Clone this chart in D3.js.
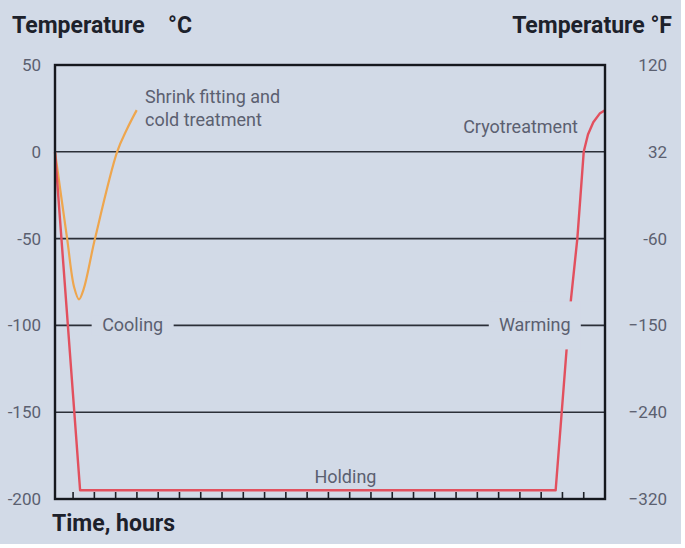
<!DOCTYPE html>
<html><head><meta charset="utf-8">
<script src="https://cdn.jsdelivr.net/npm/d3@7"></script>
<style>
html,body{margin:0;padding:0;background:#fff;}
svg{display:block;}
</style></head>
<body>
<svg id="c" width="685" height="548"></svg>
<script>
// ---- data ----
const celsiusTicks = [50, 0, -50, -100, -150, -200];
const fahrenheitLabels = ["120", "32", "-60", "\u2212150", "\u2212240", "\u2212320"];
const gridValues = [0, -50, -100, -150];
const hourTicks = d3.range(1, 26);
// shrink fitting / cold treatment (hours, °C)
const shrinkT = [0.15, 0.72, 1.05, 1.28, 1.5, 2.03, 3.07, 3.53, 3.99];
const shrinkC = [0, -50, -78, -85, -79, -50, 0, 13, 24];
// cryotreatment (hours, °C)
const cryoT = [0.15, 1.33, 23.68, 24.2, 24.4, 24.7, 25.0, 25.2, 25.45, 25.75, 26.0];
const cryoC = [0, -195, -195, -113, -85, -50, 0, 10, 17, 22, 24];

const bg = "#d2dae7";
const svg = d3.select("#c");
svg.append("rect").attr("width", 681).attr("height", 544).attr("fill", bg);

const x = d3.scaleLinear().domain([0.15, 26]).range([55, 605]);
const y = d3.scaleLinear().domain([-200, 50]).range([499, 65]);
const font = "'Roboto', 'Liberation Sans', sans-serif";
const gray = "#5b6070";

// gridlines
svg.append("g").selectAll("line").data(gridValues).join("line")
  .attr("x1", x.range()[0]).attr("x2", x.range()[1])
  .attr("y1", d => y(d)).attr("y2", d => y(d))
  .attr("stroke", "#2b2f38").attr("stroke-width", 1.6);

// left axis labels
const left = d3.axisLeft(y).tickValues(celsiusTicks).tickSize(0).tickPadding(14);
svg.append("g").attr("transform", `translate(${x.range()[0]},0)`).call(left)
  .call(g => g.select(".domain").remove())
  .selectAll("text").attr("font-family", font).attr("font-size", 17).attr("fill", gray)
  .text(d => d < 0 ? "-" + Math.abs(d) : d);

// right axis labels
const right = d3.axisRight(y).tickValues(celsiusTicks).tickSize(0).tickPadding(62)
  .tickFormat((d, i) => fahrenheitLabels[i]);
svg.append("g").attr("transform", `translate(${x.range()[1]},0)`).call(right)
  .call(g => g.select(".domain").remove())
  .selectAll("text").attr("font-family", font).attr("font-size", 17).attr("fill", gray)
  .attr("text-anchor", "end");

// bottom ticks (inside)
svg.append("g").selectAll("line").data(hourTicks).join("line")
  .attr("x1", d => x(d)).attr("x2", d => x(d))
  .attr("y1", y(-200)).attr("y2", y(-200) - 7)
  .attr("stroke", "#1c1f26").attr("stroke-width", 1.6);

// curves
const line = (ts, cs, curve) => d3.line().x((d, i) => x(ts[i])).y((d, i) => y(cs[i])).curve(curve)(ts);
svg.append("path").attr("d", line(shrinkT, shrinkC, d3.curveCatmullRom.alpha(0.5)))
  .attr("fill", "none").attr("stroke", "#eea64e").attr("stroke-width", 2.2);
svg.append("path").attr("d", line(cryoT, cryoC, d3.curveLinear))
  .attr("fill", "none").attr("stroke", "#e2505e").attr("stroke-width", 2.4)
  .attr("stroke-linejoin", "round");

// label masks on the -100 line
function masked(cx, txt, w, hh) {
  svg.append("rect").attr("x", cx - w / 2).attr("y", y(-100) - hh / 2).attr("width", w).attr("height", hh).attr("fill", bg);
  svg.append("text").attr("x", cx).attr("y", y(-100) + 6).attr("text-anchor", "middle")
    .attr("font-family", font).attr("font-size", 18).attr("fill", gray).text(txt);
}
masked(x(3.8), "Cooling", 82, 20);
masked(x(22.7), "Warming", 92, 48);

// frame
svg.append("rect").attr("x", x.range()[0]).attr("y", y(50)).attr("width", x.range()[1] - x.range()[0])
  .attr("height", y(-200) - y(50)).attr("fill", "none").attr("stroke", "#15181e").attr("stroke-width", 2.4);

// annotations
const ann = (tx, ty, txt, anchor) => svg.append("text").attr("x", tx).attr("y", ty).attr("text-anchor", anchor || "start")
  .attr("font-family", font).attr("font-size", 18).attr("fill", gray).text(txt);
ann(145, 103, "Shrink fitting and");
ann(145, 126, "cold treatment");
ann(578, 133, "Cryotreatment", "end");
ann(x(13.8), 483, "Holding", "middle");

// titles
const title = (tx, ty, txt, anchor) => svg.append("text").attr("x", tx).attr("y", ty).attr("text-anchor", anchor || "start")
  .attr("font-family", font).attr("font-weight", "bold").attr("font-size", 23).attr("fill", "#1d212b").text(txt);
title(12, 33, "Temperature");
title(168, 33, "\u00b0C");
title(672, 33, "Temperature \u00b0F", "end");
title(52, 531, "Time, hours");
</script>
</body></html>
